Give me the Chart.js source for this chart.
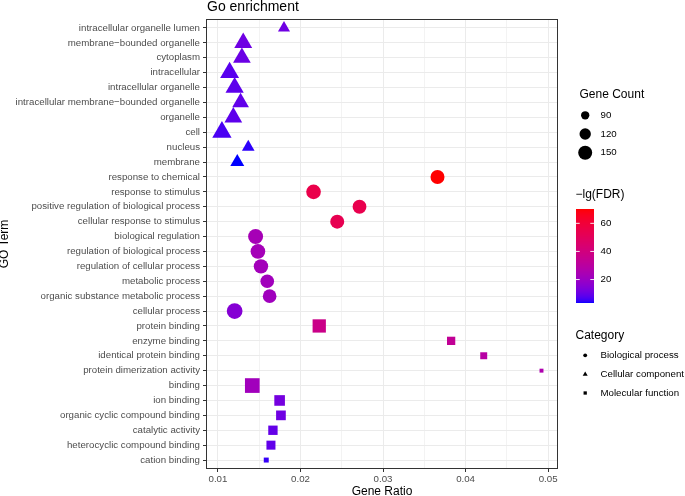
<!DOCTYPE html>
<html><head><meta charset="utf-8">
<script src="https://cdn.jsdelivr.net/npm/chart.js@4.4.1/dist/chart.umd.min.js"></script>
<style>html,body{margin:0;padding:0;background:#fff}#wrap{width:685px;height:496px;position:relative}canvas{display:block}</style>
</head><body><div id="wrap"><canvas id="c" width="685" height="496"></canvas></div>
<script>
// ---------- data ----------
const terms = [
  'intracellular organelle lumen','membrane\u2212bounded organelle','cytoplasm','intracellular',
  'intracellular organelle','intracellular membrane\u2212bounded organelle','organelle','cell','nucleus','membrane',
  'response to chemical','response to stimulus','positive regulation of biological process',
  'cellular response to stimulus','biological regulation','regulation of biological process',
  'regulation of cellular process','metabolic process','organic substance metabolic process','cellular process',
  'protein binding','enzyme binding','identical protein binding','protein dimerization activity','binding',
  'ion binding','organic cyclic compound binding','catalytic activity','heterocyclic compound binding','cation binding'
];
const termCategory = [
  'CC','CC','CC','CC','CC','CC','CC','CC','CC','CC',
  'BP','BP','BP','BP','BP','BP','BP','BP','BP','BP',
  'MF','MF','MF','MF','MF','MF','MF','MF','MF','MF'
];
const geneRatio = [
  0.0180,0.01306,0.0129,0.01141,0.01202,0.01274,0.01186,0.01048,0.01367,0.01234,
  0.0366,0.02158,0.02715,0.02445,0.01456,0.01484,0.01521,0.01597,0.01626,0.01202,
  0.02227,0.03825,0.0422,0.0492,0.01416,0.01747,0.01763,0.01666,0.01642,0.01585
];
const geneCount = [
  96,142,140,151,145,132,140,154,100,110,
  150,158,148,150,162,158,155,146,146,171,
  162,100,86,58,182,127,116,112,108,67
];
const negLgFDR = [
  11,11,10.5,8,8.5,9,8.5,6.5,4.5,3.3,
  70.2,55,54,53,23.5,23,22.5,22,21.5,15,
  37,33,29,26,22,12,11,9.5,9,5
];
const categoryCodes = ['BP','CC','MF'];
const categoryNames = ['Biological process','Cellular component','Molecular function'];
const xTickValues = [0.01,0.015,0.02,0.025,0.03,0.035,0.04,0.045,0.05];
const xTickLabels = ['0.01','','0.02','','0.03','','0.04','','0.05'];
const sizeLegendCounts = [90,120,150];
const colorLegendTicks = [20,40,60];

// ---------- styling helpers ----------
const FONT = '"Liberation Sans", Arial, Helvetica, sans-serif';
const shapeOf = {BP:'circle', CC:'triangle', MF:'rect'};

function circleDiameter(count){ return -11.29 + 2.065*Math.sqrt(count); }
function radiusFor(shape, count){
  const d = circleDiameter(count);
  if (shape==='triangle') return 0.7776*d;
  if (shape==='rect') return 0.6266*d;
  return d/2;
}
// Lab interpolation blue -> red (like ggplot scale_colour_gradient)
function toLin(c){ c/=255; return c<=0.04045? c/12.92 : Math.pow((c+0.055)/1.055,2.4); }
function fromLin(c){ const v = c<=0.0031308? 12.92*c : 1.055*Math.pow(c,1/2.4)-0.055; return Math.max(0,Math.min(255,Math.round(v*255))); }
const WX=0.95047, WY=1, WZ=1.08883;
function rgb2lab(r,g,b){
  r=toLin(r); g=toLin(g); b=toLin(b);
  const X=(0.4124564*r+0.3575761*g+0.1804375*b)/WX;
  const Y=(0.2126729*r+0.7151522*g+0.0721750*b)/WY;
  const Z=(0.0193339*r+0.1191920*g+0.9503041*b)/WZ;
  const f=t=> t>0.008856? Math.cbrt(t) : 7.787*t+16/116;
  const fx=f(X), fy=f(Y), fz=f(Z);
  return [116*fy-16, 500*(fx-fy), 200*(fy-fz)];
}
function lab2rgb(L,a,b){
  const fy=(L+16)/116, fx=fy+a/500, fz=fy-b/200;
  const fi=t=> t*t*t>0.008856? t*t*t : (t-16/116)/7.787;
  const X=fi(fx)*WX, Y=fi(fy)*WY, Z=fi(fz)*WZ;
  const r= 3.2404542*X-1.5371385*Y-0.4985314*Z;
  const g=-0.9692660*X+1.8760108*Y+0.0415560*Z;
  const bb=0.0556434*X-0.2040259*Y+1.0572252*Z;
  return [fromLin(r),fromLin(g),fromLin(bb)];
}
const LAB_LO = rgb2lab(0,0,255), LAB_HI = rgb2lab(255,0,0);
const fdrMin = Math.min(...negLgFDR), fdrMax = Math.max(...negLgFDR);
function colorFor(v){
  let t=(v-fdrMin)/(fdrMax-fdrMin); t=Math.max(0,Math.min(1,t));
  const L=LAB_LO[0]+(LAB_HI[0]-LAB_LO[0])*t, a=LAB_LO[1]+(LAB_HI[1]-LAB_LO[1])*t, b=LAB_LO[2]+(LAB_HI[2]-LAB_LO[2])*t;
  const c=lab2rgb(L,a,b); return `rgb(${c[0]},${c[1]},${c[2]})`;
}

// ---------- datasets ----------
const datasets = categoryCodes.map((code, k) => {
  const pts = [];
  terms.forEach((t,i)=>{ if(termCategory[i]===code) pts.push({x:geneRatio[i], y:i, idx:i}); });
  const shape = shapeOf[code];
  return {
    label: categoryNames[k], data: pts, pointStyle: shape,
    pointRadius: ctx => ctx.raw ? radiusFor(shape, geneCount[ctx.raw.idx]) : 3,
    pointBackgroundColor: ctx => ctx.raw ? colorFor(negLgFDR[ctx.raw.idx]) : '#000',
    pointBorderWidth: 0, pointHoverRadius: 0
  };
});

function isMajor(v){ return Math.abs(v*100 - Math.round(v*100)) < 1e-7; }

// ---------- decorations plugin (panel border, title, legends) ----------
const decor = {
  id:'decor',
  afterDraw(chart){
    const ctx=chart.ctx, ca=chart.chartArea;
    ctx.save();
    ctx.strokeStyle='#333333'; ctx.lineWidth=1;
    ctx.strokeRect(ca.left+0.5, ca.top+0.5, ca.right-ca.left-1, ca.bottom-ca.top-1);
    ctx.fillStyle='#000'; ctx.textAlign='left'; ctx.textBaseline='alphabetic';
    ctx.font='14px '+FONT; ctx.fillText('Go enrichment', ca.left+1, 11);

    // size legend
    const LX=575.5, SX=585.2, TX=600.5;
    ctx.font='12px '+FONT; ctx.fillText('Gene Count', LX+4, 98);
    const sizeY=[115.3,134,152.7];
    ctx.font='9.7px '+FONT; ctx.textBaseline='middle';
    sizeLegendCounts.forEach((c,i)=>{
      ctx.beginPath(); ctx.arc(SX, sizeY[i], circleDiameter(c)/2, 0, Math.PI*2); ctx.fillStyle='#000'; ctx.fill();
      ctx.fillText(String(c), TX, sizeY[i]);
    });

    // colour bar
    ctx.textBaseline='alphabetic'; ctx.font='12px '+FONT;
    ctx.fillText('\u2212lg(FDR)', LX, 198);
    const bx=576, bw=18, by0=209, by1=303;
    for(let y=by0; y<by1; y++){
      const v = fdrMax - (y+0.5-by0)/(by1-by0)*(fdrMax-fdrMin);
      ctx.fillStyle=colorFor(v); ctx.fillRect(bx, y, bw, 1);
    }
    ctx.strokeStyle='rgba(255,255,255,0.9)'; ctx.lineWidth=1;
    ctx.font='9.7px '+FONT; ctx.textBaseline='middle';
    colorLegendTicks.forEach(v=>{
      const y = by1 - (v-fdrMin)/(fdrMax-fdrMin)*(by1-by0);
      ctx.beginPath(); ctx.moveTo(bx,y); ctx.lineTo(bx+3.7,y); ctx.moveTo(bx+bw-3.7,y); ctx.lineTo(bx+bw,y); ctx.stroke();
      ctx.fillStyle='#000'; ctx.fillText(String(v), 600.5, y);
    });

    // category legend
    ctx.textBaseline='alphabetic'; ctx.font='12px '+FONT; ctx.fillStyle='#000';
    ctx.fillText('Category', LX, 338.5);
    const catY=[355.3,374.3,393];
    ctx.font='9.7px '+FONT; ctx.textBaseline='middle';
    categoryCodes.forEach((code,i)=>{
      const y=catY[i], s=shapeOf[code];
      ctx.beginPath();
      if(s==='circle'){ ctx.arc(SX,y,1.9,0,Math.PI*2); }
      else if(s==='triangle'){ const r=2.9; ctx.moveTo(SX,y-r); ctx.lineTo(SX+r*0.866,y+r/2); ctx.lineTo(SX-r*0.866,y+r/2); ctx.closePath(); }
      else { ctx.rect(SX-1.65,y-1.65,3.3,3.3); }
      ctx.fillStyle='#000'; ctx.fill();
      ctx.fillText(categoryNames[i], TX, y);
    });
    ctx.restore();
  }
};

new Chart(document.getElementById('c'), {
  type:'scatter',
  data:{datasets},
  plugins:[decor],
  options:{
    responsive:false, animation:false, events:[],
    layout:{padding:{top:19,right:127,left:0,bottom:0}},
    plugins:{legend:{display:false}, tooltip:{enabled:false}, title:{display:false}},
    scales:{
      x:{
        type:'linear', min:0.00855, max:0.0512, bounds:'data',
        afterBuildTicks: s=>{ s.ticks = xTickValues.map(v=>({value:v})); },
        afterFit: s=>{ s.height=27; },
        ticks:{ callback:(v,i)=>xTickLabels[i], color:'#4d4d4d', font:{family:FONT,size:9.7}, padding:2, maxRotation:0, autoSkip:false },
        grid:{ color:'#ebebeb', lineWidth: c=> (c.tick && isMajor(c.tick.value)) ? 1 : 0.6,
               tickLength:3, tickColor: c=> (c.tick && isMajor(c.tick.value)) ? '#333333' : 'rgba(0,0,0,0)', tickWidth:1 },
        border:{display:false},
        title:{display:true, text:'Gene Ratio', color:'#000', font:{family:FONT,size:12,lineHeight:0.8}, padding:0}
      },
      y:{
        type:'linear', min:-0.6, max:29.6, reverse:true, bounds:'data',
        afterBuildTicks: s=>{ s.ticks = terms.map((t,i)=>({value:i})); },
        afterFit: s=>{ s.width=206; },
        ticks:{ callback:(v)=>terms[v], color:'#4d4d4d', font:{family:FONT,size:9.7}, padding:3, autoSkip:false },
        grid:{ color:'#ebebeb', lineWidth:1, tickLength:3, tickColor:'#333333', tickWidth:1 },
        border:{display:false},
        title:{display:true, text:'GO Term', color:'#000', font:{family:FONT,size:12,lineHeight:0.8}, padding:0}
      }
    }
  }
});
</script>
</body></html>
